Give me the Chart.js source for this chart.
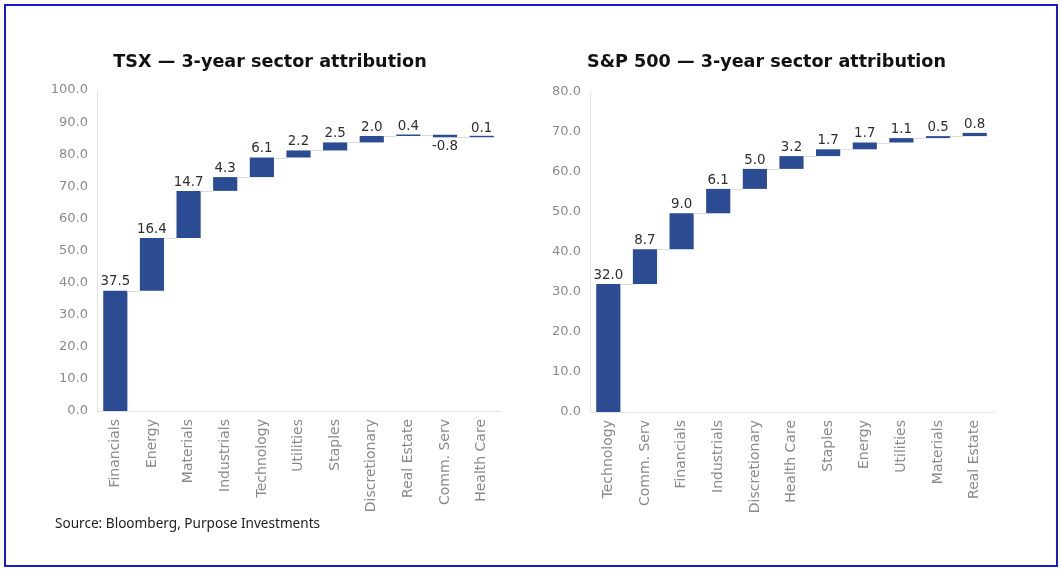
<!DOCTYPE html>
<html>
<head>
<meta charset="utf-8">
<script src="https://cdn.jsdelivr.net/npm/chart.js@4.4.1/dist/chart.umd.min.js"></script>
<style>
  html, body { margin: 0; padding: 0; background: #fff; }
  body { width: 1062px; height: 572px; position: relative; overflow: hidden; }
  #frame {
    position: absolute; left: 4px; top: 4px; width: 1050px; height: 559px;
    border: 2px solid #1a1acc;
  }
  .box { position: absolute; }
  #tsx-box { left: 40px; top: 38px; width: 470px; height: 483px; }
  #spx-box { left: 540px; top: 38px; width: 463px; height: 484px; }
  #source {
    position: absolute; left: 55px; top: 513px;
    font-family: "Noto Sans", sans-serif; font-size: 13.6px; color: #222;
  }
</style>
</head>
<body>
<div id="frame"></div>
<div class="box" id="tsx-box"><canvas id="tsx-chart"></canvas></div>
<div class="box" id="spx-box"><canvas id="spx-chart"></canvas></div>
<div id="source">Source: Bloomberg, Purpose Investments</div>

<script>
const tsxSectors = ['Financials', 'Energy', 'Materials', 'Industrials', 'Technology', 'Utilities',
    'Staples', 'Discretionary', 'Real Estate', 'Comm. Serv', 'Health Care'];
const tsxValues = [37.5, 16.4, 14.7, 4.3, 6.1, 2.2, 2.5, 2.0, 0.4, -0.8, 0.1];
const tsxAxisMax = 100;

const spxSectors = ['Technology', 'Comm. Serv', 'Financials', 'Industrials', 'Discretionary', 'Health Care',
    'Staples', 'Energy', 'Utilities', 'Materials', 'Real Estate'];
const spxValues = [32.0, 8.7, 9.0, 6.1, 5.0, 3.2, 1.7, 1.7, 1.1, 0.5, 0.8];
const spxAxisMax = 80;

const BAR_COLOR = '#2b4b93';
const FONT = '"DejaVu Sans", sans-serif';

// running totals -> floating [start, end] bars
const toSteps = (values) => {
    let total = 0;
    return values.map(v => {
        const start = total;
        total += v;
        return [start, total];
    });
};

// connectors between bars + value labels
const waterfallPlugin = {
    id: 'waterfall',
    afterDatasetsDraw(chart) {
        const { ctx, scales: { y } } = chart;
        const meta = chart.getDatasetMeta(0);
        const steps = chart.data.datasets[0].data;
        const values = chart.data.datasets[0].rawValues;

        ctx.save();
        ctx.strokeStyle = '#dcdcdc';
        ctx.lineWidth = 1;
        for (let i = 0; i < meta.data.length - 1; i++) {
            const bar = meta.data[i];
            const next = meta.data[i + 1];
            const yy = Math.round(y.getPixelForValue(steps[i][1])) + 0.5;
            ctx.beginPath();
            ctx.moveTo(bar.x + bar.width / 2, yy);
            ctx.lineTo(next.x - next.width / 2, yy);
            ctx.stroke();
        }

        ctx.fillStyle = '#2e2e2e';
        ctx.font = '13.4px ' + FONT;
        ctx.textAlign = 'center';
        meta.data.forEach((bar, i) => {
            const v = values[i];
            const top = y.getPixelForValue(Math.max(steps[i][0], steps[i][1]));
            const bottom = y.getPixelForValue(Math.min(steps[i][0], steps[i][1]));
            if (v >= 0) {
                ctx.textBaseline = 'bottom';
                ctx.fillText(v.toFixed(1), bar.x, top - 2);
            } else {
                ctx.textBaseline = 'top';
                ctx.fillText(v.toFixed(1), bar.x, bottom + 3);
            }
        });
        ctx.restore();
    }
};

const makeChart = (canvasId, title, labels, values, axisMax, yWidth, titlePad) => {
    const ctx = document.getElementById(canvasId).getContext('2d');
    return new Chart(ctx, {
        type: 'bar',
        data: {
            labels: labels,
            datasets: [{
                data: toSteps(values),
                rawValues: values,
                backgroundColor: BAR_COLOR,
                borderWidth: 0,
                barPercentage: 0.66,
                categoryPercentage: 1.0,
                minBarLength: 1.5
            }]
        },
        options: {
            responsive: true,
            maintainAspectRatio: false,
            animation: false,
            layout: { padding: { right: 10, bottom: 0 } },
            plugins: {
                legend: { display: false },
                tooltip: { enabled: false },
                title: {
                    display: true,
                    text: title,
                    color: '#111',
                    font: { family: FONT, size: 17.6, weight: 'bold' },
                    padding: titlePad
                }
            },
            scales: {
                x: {
                    grid: { display: false, drawTicks: false },
                    border: { color: '#e3e3e3' },
                    ticks: {
                        color: '#8a8a8a',
                        font: { family: FONT, size: 14 },
                        maxRotation: 90,
                        minRotation: 90,
                        padding: 8,
                        autoSkip: false
                    },
                    afterFit: (scale) => { scale.height = 110; }
                },
                y: {
                    min: 0,
                    max: axisMax,
                    grid: { display: false, drawTicks: false },
                    border: { color: '#e3e3e3' },
                    ticks: {
                        stepSize: 10,
                        color: '#8a8a8a',
                        font: { family: FONT, size: 13 },
                        padding: 9,
                        callback: (v) => Number(v).toFixed(1)
                    },
                    afterFit: (scale) => { scale.width = yWidth; }
                }
            }
        },
        plugins: [waterfallPlugin]
    });
};

makeChart('tsx-chart', 'TSX — 3-year sector attribution', tsxSectors, tsxValues, tsxAxisMax, 57,
    { top: 14, bottom: 17 });
makeChart('spx-chart', 'S&P 500 — 3-year sector attribution', spxSectors, spxValues, spxAxisMax, 50,
    { top: 14, bottom: 19 });
</script>
</body>
</html>
